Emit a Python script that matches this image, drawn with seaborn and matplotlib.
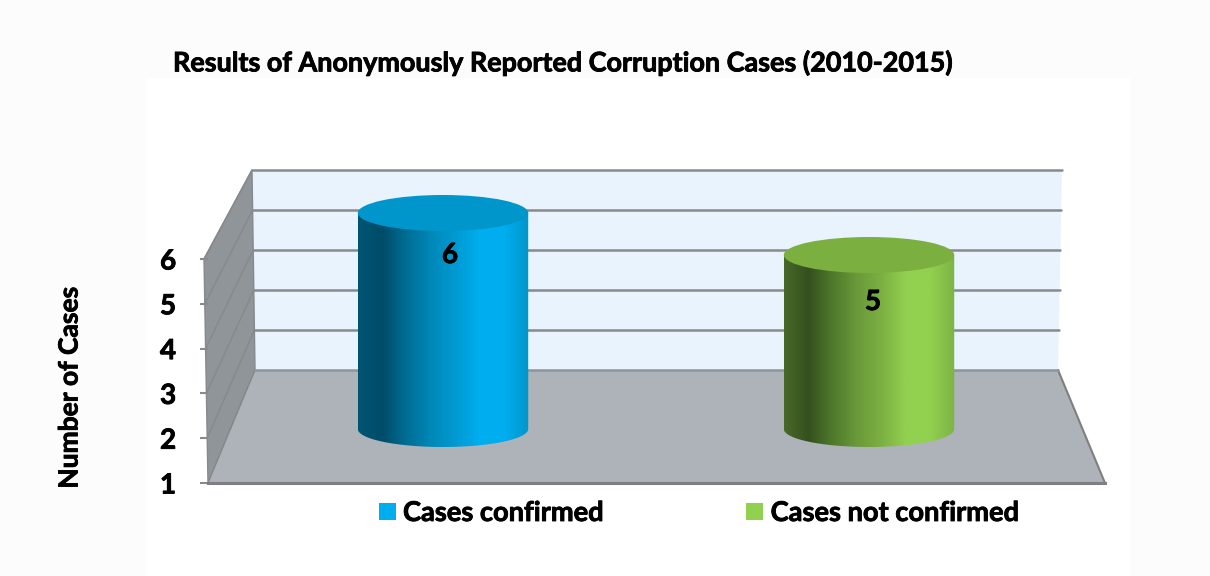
import numpy as np
import pandas as pd
import seaborn as sns
import matplotlib.pyplot as plt
import matplotlib.patheffects as pe
from matplotlib.colors import LinearSegmentedColormap
from matplotlib.patches import Ellipse, PathPatch, Patch, Polygon, Rectangle
from matplotlib.path import Path

categories = ["Cases confirmed", "Cases not confirmed"]
cases = [6, 5]
y_ticks = [1, 2, 3, 4, 5, 6]

bar_colors = ["#00aeef", "#92d050"]
top_colors = ["#0096cb", "#7bb041"]
shades = [
    ["#005573", "#004c69", "#006f96", "#0088b8", "#009ad2", "#00aeef", "#00aeef", "#0096cc"],
    ["#48692a", "#34501d", "#4f7a2c", "#6a9a3a", "#7cb043", "#92d050", "#92d050", "#7db344"],
]
label_dx = [5.0, 2.9]
label_dy = [-42, -47]

W, H = 1210, 576
sns.set_style("white")
plt.rcParams["font.family"] = ["Lato", "DejaVu Sans"]
plt.rcParams["font.weight"] = "bold"
heavy = [pe.withStroke(linewidth=0.6, foreground="black")]

fig = plt.figure(figsize=(W / 100, H / 100), dpi=100, facecolor="#fcfcfc")


def rect(left, top, right, bottom):
    return [left / W, 1 - bottom / H, (right - left) / W, (bottom - top) / H]


# backdrop drawn in pixel coords, wall + floor are just decoration
bg = fig.add_axes([0, 0, 1, 1], zorder=0)
bg.set_xlim(0, W)
bg.set_ylim(H, 0)
bg.axis("off")
bg.add_patch(Rectangle((146, 78), 984, 498, fc="white", ec="none"))
bg.add_patch(Polygon([(252, 170), (1062, 170), (1058, 370), (255, 370)], fc="#e8f3fd", ec="none"))
bg.add_patch(Polygon([(204, 259), (252, 170), (255, 370), (208, 483)], fc="#90959a", ec="#85898d", lw=1))
bg.add_patch(Polygon([(255, 370), (1058, 370), (1105, 483), (208, 483)], fc="#adb3b9", ec="none"))
bg.plot([1058, 1105], [370, 483], color="#7f7f7f", lw=1.5)
bg.plot([255, 208], [370, 483], color="#85898d", lw=1)

for v in y_ticks[1:]:
    back_y = 370 - 40 * (v - 1)
    front_y = 483 - 44.8 * (v - 1)
    f = (v - 1) / 5
    bg.plot([255 - 3 * f, 1058 + 4 * f], [back_y, back_y], color="#8a8a8a", lw=1.8)
    bg.plot([208 - 4 * f, 255 - 3 * f], [front_y, back_y], color="#85898d", lw=1)
bg.plot([255, 1058], [370, 370], color="#8f9499", lw=1.8)

# front axis with the tick labels
ax = fig.add_axes(rect(208, 259, 1105, 483), zorder=1)
ax.patch.set_visible(False)
ax.set_ylim(y_ticks[0], y_ticks[-1])
ax.set_xticks([])
ax.set_yticks(y_ticks)
ax.set_yticklabels([str(v) for v in y_ticks], fontsize=20, fontweight="bold", color="black", path_effects=heavy)
ax.tick_params(axis="y", left=True, length=6, width=1.5, color="#8a8a8a", pad=17)
for name in ["top", "right", "left"]:
    ax.spines[name].set_visible(False)
ax.spines["bottom"].set_color("#7f7f7f")
ax.spines["bottom"].set_linewidth(2.2)
ax.set_ylabel("Number of Cases", fontsize=19, fontweight="bold", color="black", path_effects=heavy)
ax.yaxis.set_label_coords(-0.141, 0.424)

# bars, 42 px per case, zero at y=465
ax2 = fig.add_axes(rect(230, 171, 1082, 465), zorder=2)
ax2.patch.set_visible(False)
df = pd.DataFrame({"category": categories, "cases": cases})
sns.barplot(data=df, x="category", y="cases", hue="category", palette=bar_colors,
            width=0.4, legend=False, saturation=1, ax=ax2)
ax2.set_xlim(-0.5, 1.5)
ax2.set_ylim(0, 7)
ax2.axis("off")

floor = 0.857
ry = 18 / 42
for i, bar in enumerate(ax2.patches):
    x0, w, top = bar.get_x(), bar.get_width(), bar.get_height()
    xc = x0 + w / 2
    bar.set_visible(False)

    t = np.linspace(0, np.pi, 60)
    verts = [(x0, top)] + list(zip(xc - w / 2 * np.cos(t), floor - ry * np.sin(t))) + [(x0 + w, top), (x0, top)]
    body = PathPatch(Path(verts), fc="none", ec="none", transform=ax2.transData)
    ax2.add_patch(body)
    cmap = LinearSegmentedColormap.from_list("cyl", shades[i])
    img = ax2.imshow(np.linspace(0, 1, 256).reshape(1, -1), cmap=cmap, aspect="auto",
                     extent=(x0, x0 + w, 0, top), zorder=2)
    img.set_clip_path(body)
    ax2.add_patch(Ellipse((xc, top), w, 2 * ry, fc=top_colors[i], ec="none", zorder=3))

    ax2.annotate(str(cases[i]), (xc, top), xytext=(label_dx[i], label_dy[i] * 0.72), textcoords="offset points",
                 ha="center", va="center", fontsize=20, fontweight="bold", color="black", zorder=4,
                 path_effects=heavy)
ax2.set_xlim(-0.5, 1.5)
ax2.set_ylim(0, 7)

handles = [Patch(fc=c, ec="none", label=n) for c, n in zip(bar_colors, categories)]
leg = fig.legend(handles=handles, ncol=2, frameon=False, loc="center left",
                 bbox_to_anchor=(354 / W, 1 - 513 / H), prop={"size": 19.6, "weight": "bold"},
                 handlelength=0.63, handleheight=0.63, handletextpad=0.27, columnspacing=5.25,
                 labelcolor="black")
for txt in leg.get_texts():
    txt.set_path_effects(heavy)

fig.text(173 / W, 1 - 63 / H, "Results of Anonymously Reported Corruption Cases (2010-2015)",
         fontsize=19.4, fontweight="bold", color="black", ha="left", va="center", path_effects=heavy)

fig.savefig("out.png", dpi=100, facecolor=fig.get_facecolor())
